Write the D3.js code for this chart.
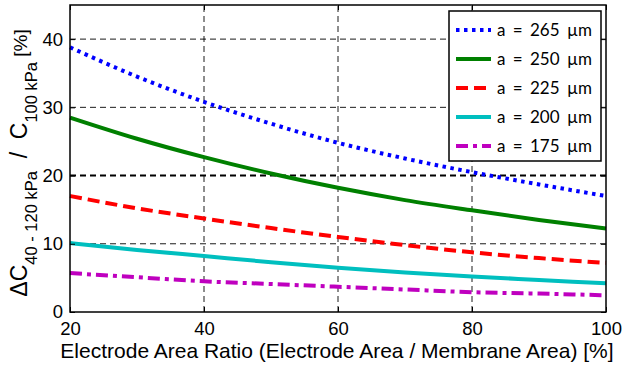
<!DOCTYPE html>
<html>
<head>
<meta charset="utf-8">
<script src="https://cdn.jsdelivr.net/npm/d3@7"></script>
<style>
  body { margin: 0; background: #fff; }
  svg { display: block; }
</style>
</head>
<body>
<svg id="chart" width="625" height="367"></svg>
<script>
const ratio = [20, 30, 40, 50, 60, 70, 80, 90, 100];
const a265 = [38.8, 34.5, 30.8, 27.6, 24.8, 22.5, 20.5, 18.7, 17.0];
const a250 = [28.5, 25.4, 22.7, 20.3, 18.2, 16.4, 14.9, 13.5, 12.25];
const a225 = [17.0, 15.2, 13.7, 12.3, 11.0, 9.8, 8.75, 7.9, 7.2];
const a200 = [10.1, 9.1, 8.2, 7.3, 6.5, 5.8, 5.2, 4.7, 4.2];
const a175 = [5.7, 5.1, 4.5, 4.1, 3.7, 3.3, 2.9, 2.7, 2.45];
const xTicks = [20, 40, 60, 80, 100];
const yTicks = [0, 10, 20, 30, 40];
const threshold = 20;

const series = [
  { label: "a = 265 µm", values: a265, color: "#0000FF", dash: "3.5,4.5" },
  { label: "a = 250 µm", values: a250, color: "#008000", dash: null },
  { label: "a = 225 µm", values: a225, color: "#FF0000", dash: "12,6" },
  { label: "a = 200 µm", values: a200, color: "#00BFBF", dash: null },
  { label: "a = 175 µm", values: a175, color: "#BF00BF", dash: "12,5,4,5" },
];

const margin = { left: 70, right: 19, top: 5, bottom: 55 };
const width = 625, height = 367;

const svg = d3.select("#chart");

const x = d3.scaleLinear().domain([20, 100]).range([margin.left, width - margin.right]);
const y = d3.scaleLinear().domain([0, 45]).range([height - margin.bottom, margin.top]);

const tickFont = "Liberation Sans, Arial, sans-serif";

// grid
const grid = svg.append("g").attr("stroke", "#000").attr("stroke-width", 0.9)
  .attr("stroke-dasharray", "6,4").attr("fill", "none");
grid.selectAll(".gx").data(xTicks.slice(1, -1)).join("line")
  .attr("x1", d => x(d)).attr("x2", d => x(d))
  .attr("y1", y(0)).attr("y2", y(45));
grid.selectAll(".gy").data(yTicks.slice(1).filter(d => d !== threshold)).join("line")
  .attr("x1", x(20)).attr("x2", x(100))
  .attr("y1", d => y(d)).attr("y2", d => y(d));

// threshold line
svg.append("line")
  .attr("x1", x(20)).attr("x2", x(100))
  .attr("y1", y(threshold)).attr("y2", y(threshold))
  .attr("stroke", "#000").attr("stroke-width", 2).attr("stroke-dasharray", "6,4");

// curves
const line = d3.line()
  .x((d, i) => x(ratio[i]))
  .y(d => y(d))
  .curve(d3.curveMonotoneX);

svg.append("g").selectAll("path").data(series).join("path")
  .attr("d", d => line(d.values))
  .attr("fill", "none")
  .attr("stroke", d => d.color)
  .attr("stroke-width", 4)
  .attr("stroke-dasharray", d => d.dash);

// axes (box with inward ticks)
const xAxis = d3.axisBottom(x).tickValues(xTicks).tickSizeInner(-5).tickSizeOuter(0).tickPadding(10);
const yAxis = d3.axisLeft(y).tickValues(yTicks).tickSizeInner(-5).tickSizeOuter(0).tickPadding(7);

const gx = svg.append("g").attr("transform", `translate(0,${y(0)})`).call(xAxis);
const gy = svg.append("g").attr("transform", `translate(${x(20)},0)`).call(yAxis);
[gx, gy].forEach(g => {
  g.select(".domain").remove();
  g.selectAll("line").attr("stroke", "#000");
  g.selectAll("text").attr("font-family", tickFont).attr("font-size", 18.5).attr("fill", "#000");
});
gx.selectAll("text").attr("dy", "0.71em");

svg.append("g").attr("transform", `translate(0,${y(45)})`)
  .call(d3.axisTop(x).tickValues(xTicks).tickSizeInner(-5).tickSizeOuter(0).tickFormat(""))
  .call(g => g.select(".domain").remove());
svg.append("g").attr("transform", `translate(${x(100)},0)`)
  .call(d3.axisRight(y).tickValues(yTicks).tickSizeInner(-5).tickSizeOuter(0).tickFormat(""))
  .call(g => g.select(".domain").remove());

svg.append("rect")
  .attr("x", x(20)).attr("y", y(45))
  .attr("width", x(100) - x(20)).attr("height", y(0) - y(45))
  .attr("fill", "none").attr("stroke", "#000").attr("stroke-width", 1.5);

// axis titles
svg.append("text")
  .attr("x", 337).attr("y", 358)
  .attr("text-anchor", "middle")
  .attr("font-family", tickFont).attr("font-size", 21)
  .text("Electrode Area Ratio (Electrode Area / Membrane Area) [%]");

const yl = svg.append("text")
  .attr("transform", `translate(27,163) rotate(-90)`)
  .attr("text-anchor", "middle")
  .attr("font-family", tickFont).attr("font-size", 23);
yl.append("tspan").text("ΔC");
yl.append("tspan").attr("font-size", 16.5).attr("dy", 10).text("40 - 120 kPa");
yl.append("tspan").attr("dy", -10).text("\u00a0 /\u00a0 C");
yl.append("tspan").attr("font-size", 16.5).attr("dy", 10).text("100 kPa");
yl.append("tspan").attr("dy", -10).attr("font-size", 19).text(" [%]");

// legend
const lg = svg.append("g").attr("transform", "translate(449,11)");
lg.append("rect").attr("width", 152).attr("height", 150)
  .attr("fill", "#fff").attr("stroke", "#000").attr("stroke-width", 1.5);
const item = lg.selectAll(".item").data(series).join("g")
  .attr("transform", (d, i) => `translate(0,${19 + i * 29})`);
item.append("line")
  .attr("x1", 7).attr("x2", 42)
  .attr("stroke", d => d.color).attr("stroke-width", 4)
  .attr("stroke-dasharray", d => d.dash);
item.append("text")
  .attr("x", 48).attr("dy", "0.36em")
  .attr("font-family", "Lato, 'Open Sans', sans-serif").attr("font-size", 17)
  .attr("word-spacing", 3)
  .text(d => d.label);
</script>
</body>
</html>
